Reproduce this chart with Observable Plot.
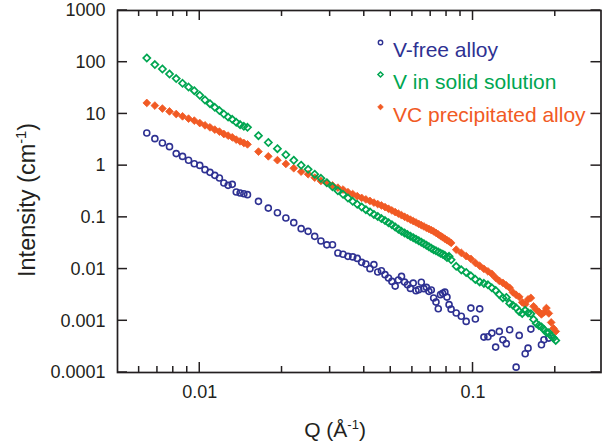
<!DOCTYPE html>
<html><head><meta charset="utf-8">
<script src="https://cdn.jsdelivr.net/npm/d3@7"></script>
<script src="https://cdn.jsdelivr.net/npm/@observablehq/plot@0.6"></script>
<style>html,body{margin:0;padding:0;background:#fff;}</style>
</head><body><div id="chart"></div>
<script>
// Q grid (Å^-1), three detector segments
const q1 = [0.0064, 0.00685, 0.0073, 0.00775, 0.0082, 0.00865, 0.0091, 0.00955, 0.0100, 0.01045, 0.0109, 0.01135, 0.0118, 0.01225, 0.0127, 0.01315, 0.0136, 0.01405, 0.0145, 0.01495];
const q2 = [0.0164, 0.01782, 0.01924, 0.02066, 0.02208, 0.0235, 0.02492, 0.02634, 0.02776, 0.02918, 0.0306, 0.03202, 0.03344, 0.03486, 0.03628, 0.0377, 0.03912, 0.04054, 0.04196, 0.04338, 0.0448, 0.04622, 0.04764, 0.04906, 0.05048, 0.0519, 0.05332, 0.05474, 0.05616, 0.05758, 0.059, 0.06042, 0.06184, 0.06326, 0.06468, 0.0661, 0.06752, 0.06894, 0.07036, 0.07178, 0.0732, 0.07462, 0.07604, 0.07746, 0.07888, 0.0803, 0.08172, 0.08314];
const q3 = [0.0868, 0.0906, 0.0944, 0.0982, 0.102, 0.1058, 0.1096, 0.1134, 0.1172, 0.121, 0.1248, 0.1286, 0.1324, 0.1362, 0.14, 0.1438, 0.1476, 0.1514, 0.1552, 0.159, 0.1628, 0.1666, 0.1704, 0.1742, 0.178, 0.1818, 0.1856, 0.1894, 0.1932, 0.197, 0.2008];

// Intensity (cm^-1)
const vFree1 = [4.27, 3.33, 2.74, 2.33, 1.71, 1.51, 1.27, 1.09, 1.01, 0.837, 0.742, 0.649, 0.575, 0.461, 0.416, 0.435, 0.309, 0.295, 0.287, 0.275];
const vFree2 = [0.204, 0.151, 0.123, 0.0969, 0.079, 0.0605, 0.0536, 0.0429, 0.035, 0.0294, 0.0296, 0.0204, 0.0194, 0.0176, 0.0172, 0.0161, 0.0135, 0.0125, 0.0102, 0.0122, 0.00875, 0.00931, 0.0078, 0.0067, 0.00578, 0.00469, 0.00613, 0.00722, 0.0056, 0.00499, 0.00423, 0.00536, 0.00382, 0.0040, 0.00555, 0.00418, 0.00443, 0.00371, 0.00395, 0.00275, 0.0023, 0.00171, 0.0032, 0.00339, 0.00359, 0.00287, 0.00205, 0.00168];
const vFree3 = [0.00141, 0.00122, 0.000973, 0.00176, 0.00108, 0.0017, 0.000484, 0.00049, 0.000578, 0.00031, 0.000624, 0.000431, 0.000361, 0.000673, null, 0.000127, 0.000522, null, 0.000231, 0.000296, 0.00069, null, null, null, 0.000345, 0.000431, null, 0.000463, null, null, null];

const vSolid1 = [120.5, 89.9, 73.9, 59.1, 48.2, 39.1, 33.1, 28.2, 22.9, 18.6, 15.8, 13.4, 11.6, 9.95, 8.71, 7.86, 6.88, 6.21, 5.75, 5.5];
const vSolid2 = [3.80, 2.80, 2.13, 1.62, 1.27, 1.02, 0.848, 0.685, 0.568, 0.467, 0.391, 0.328, 0.279, 0.237, 0.204, 0.179, 0.159, 0.141, 0.127, 0.114, 0.104, 0.0948, 0.0867, 0.079, 0.0719, 0.0652, 0.0591, 0.0538, 0.0501, 0.0465, 0.0433, 0.0405, 0.0379, 0.0354, 0.0331, 0.031, 0.029, 0.0271, 0.0254, 0.0237, 0.0225, 0.0215, 0.0203, 0.0194, 0.0184, 0.0168, 0.0176, 0.0151];
const vSolid3 = [0.01128, 0.00965, 0.00863, 0.00739, 0.00632, 0.00565, 0.00529, 0.00495, 0.00433, 0.00387, 0.00324, 0.00277, 0.00283, 0.00217, 0.00199, 0.00178, 0.00152, 0.00139, 0.00159, 0.00142, 0.00137, 0.00106, 0.00089, 0.000815, 0.000762, 0.000682, 0.000597, 0.00059, 0.00051, 0.000467, 0.000418];

const vcPrecip1 = [16.3, 14.5, 12.7, 11.2, 9.96, 8.99, 8.11, 7.42, 6.67, 6.02, 5.5, 4.97, 4.55, 4.09, 3.80, 3.53, 3.18, 2.95, 2.74, 2.58];
const vcPrecip2 = [1.866, 1.513, 1.277, 1.079, 0.891, 0.765, 0.682, 0.586, 0.506, 0.461, 0.414, 0.375, 0.345, 0.307, 0.282, 0.257, 0.238, 0.222, 0.2075, 0.193, 0.181, 0.170, 0.158, 0.1467, 0.136, 0.1266, 0.118, 0.110, 0.1027, 0.0965, 0.0903, 0.0848, 0.0797, 0.0749, 0.0706, 0.0667, 0.0629, 0.0597, 0.0565, 0.0536, 0.0501, 0.0469, 0.0439, 0.0412, 0.0386, 0.0362, 0.0342, 0.0321];
const vcPrecip3 = [0.0237, 0.0206, 0.0178, 0.01574, 0.01318, 0.01153, 0.01009, 0.00903, 0.00807, 0.00676, 0.00591, 0.00541, 0.00484, 0.00433, 0.00354, 0.00317, 0.0029, 0.00227, 0.00208, 0.00259, 0.00277, 0.0019, 0.00164, 0.00149, 0.00133, 0.00145, 0.00176, 0.00139, 0.00093, 0.000713, 0.000624];

const seriesNames = ["V-free alloy", "V in solid solution", "VC precipitated alloy"];
const seriesColors = ["#2e3192", "#00a651", "#f15a24"];

const xMajorTicks = [0.01, 0.1];
const xTickLabels = ["0.01", "0.1"];
const xMinorTicks = [0.006, 0.007, 0.008, 0.009, 0.02, 0.03, 0.04, 0.05, 0.06, 0.07, 0.08, 0.09, 0.2];
const yTicks = [0.0001, 0.001, 0.01, 0.1, 1, 10, 100, 1000];
const yTickLabels = ["0.0001", "0.001", "0.01", "0.1", "1", "10", "100", "1000"];
const xTitle = ["Q (Å", "-1", ")"];
const yTitle = ["Intensity (cm", "-1", ")"];

const qAll = [...q1, ...q2, ...q3];
const toRows = (vals) => qAll.map((q, k) => ({q, v: vals[k]})).filter(d => d.v != null);
const blueRows = toRows([...vFree1, ...vFree2, ...vFree3]);
const greenRows = toRows([...vSolid1, ...vSolid2, ...vSolid3]);
const orangeRows = toRows([...vcPrecip1, ...vcPrecip2, ...vcPrecip3]);

const ink = "#231f20";
const W = 603, H = 447, mL = 117, mR = 2.5, mT = 10, mB = 75;

const plot = Plot.plot({
  width: W, height: H,
  marginLeft: mL, marginRight: mR, marginTop: mT, marginBottom: mB,
  style: {fontFamily: "'Liberation Sans', Arial, Helvetica, sans-serif", fontSize: "18px", color: ink, background: "#fff"},
  x: {type: "log", domain: [0.005, 0.294]},
  y: {type: "log", domain: [1e-4, 1e3]},
  marks: [
    Plot.axisX(xMajorTicks, {anchor: "bottom", tickSize: 0, tickPadding: 13, fontSize: 18, fill: ink, tickFormat: d => xTickLabels[xMajorTicks.indexOf(d)], label: null}),
    Plot.axisY(yTicks, {anchor: "left", tickSize: 0, tickPadding: 12, fontSize: 18, fill: ink, tickFormat: d => yTickLabels[yTicks.indexOf(d)], label: null}),
    Plot.dot(blueRows, {x: "q", y: "v", r: 3.0, stroke: seriesColors[0], strokeWidth: 1.6, fill: "none"}),
    Plot.dot(orangeRows, {x: "q", y: "v", symbol: "diamond2", r: 3.5, fill: seriesColors[2], stroke: seriesColors[2], strokeWidth: 0.8}),
    Plot.dot(greenRows, {x: "q", y: "v", symbol: "diamond2", r: 3.2, stroke: seriesColors[1], strokeWidth: 1.7, fill: "none"}),
    Plot.dot([seriesNames[0]], {frameAnchor: "top-left", dx: 263, dy: 32, r: 2.2, stroke: seriesColors[0], strokeWidth: 1.4, fill: "none"}),
    Plot.dot([seriesNames[1]], {frameAnchor: "top-left", dx: 263, dy: 64, symbol: "diamond2", r: 2.3, stroke: seriesColors[1], strokeWidth: 1.5, fill: "none"}),
    Plot.dot([seriesNames[2]], {frameAnchor: "top-left", dx: 263, dy: 96.5, symbol: "diamond2", r: 2.6, fill: seriesColors[2], stroke: seriesColors[2], strokeWidth: 0.6}),
    Plot.text([seriesNames[0]], {frameAnchor: "top-left", dx: 275.5, dy: 32, text: d => d, textAnchor: "start", fill: seriesColors[0], fontSize: 21}),
    Plot.text([seriesNames[1]], {frameAnchor: "top-left", dx: 275.5, dy: 64, text: d => d, textAnchor: "start", fill: seriesColors[1], fontSize: 21}),
    Plot.text([seriesNames[2]], {frameAnchor: "top-left", dx: 275.5, dy: 96.5, text: d => d, textAnchor: "start", fill: seriesColors[2], fontSize: 21}),
    Plot.frame({stroke: ink, strokeWidth: 1.7})
  ]
});

// inward ticks, placed with the plot's own scales
const svg = d3.select(plot);
const sx = plot.scale("x"), sy = plot.scale("y");
const fx0 = mL, fx1 = W - mR, fy0 = mT, fy1 = H - mB;
const tickLayer = svg.append("g").attr("stroke", ink).attr("stroke-width", 1.5);
function drawXTicks(values, len) {
  for (const v of values) {
    const px = sx.apply(v);
    tickLayer.append("line").attr("x1", px).attr("x2", px).attr("y1", fy1).attr("y2", fy1 - len);
    tickLayer.append("line").attr("x1", px).attr("x2", px).attr("y1", fy0).attr("y2", fy0 + len);
  }
}
drawXTicks(xMajorTicks, 10);
drawXTicks(xMinorTicks, 6);
for (const v of yTicks) {
  const py = sy.apply(v);
  tickLayer.append("line").attr("x1", fx0).attr("x2", fx0 + 10).attr("y1", py).attr("y2", py);
  tickLayer.append("line").attr("x1", fx1).attr("x2", fx1 - 10).attr("y1", py).attr("y2", py);
}

function addTitle(parts, transform, size) {
  const t = svg.append("text")
    .attr("transform", transform)
    .attr("text-anchor", "middle")
    .attr("fill", ink)
    .style("font-family", "'Liberation Sans', Arial, Helvetica, sans-serif")
    .style("font-size", size + "px");
  t.append("tspan").text(parts[0]);
  t.append("tspan").attr("dy", -size * 0.4).style("font-size", (size * 0.62) + "px").text(parts[1]);
  t.append("tspan").attr("dy", size * 0.4).text(parts[2]);
}
addTitle(xTitle, "translate(335,437)", 21);
addTitle(yTitle, "translate(35,200) rotate(-90)", 23.5);

document.getElementById("chart").appendChild(plot);
</script>
</body></html>
